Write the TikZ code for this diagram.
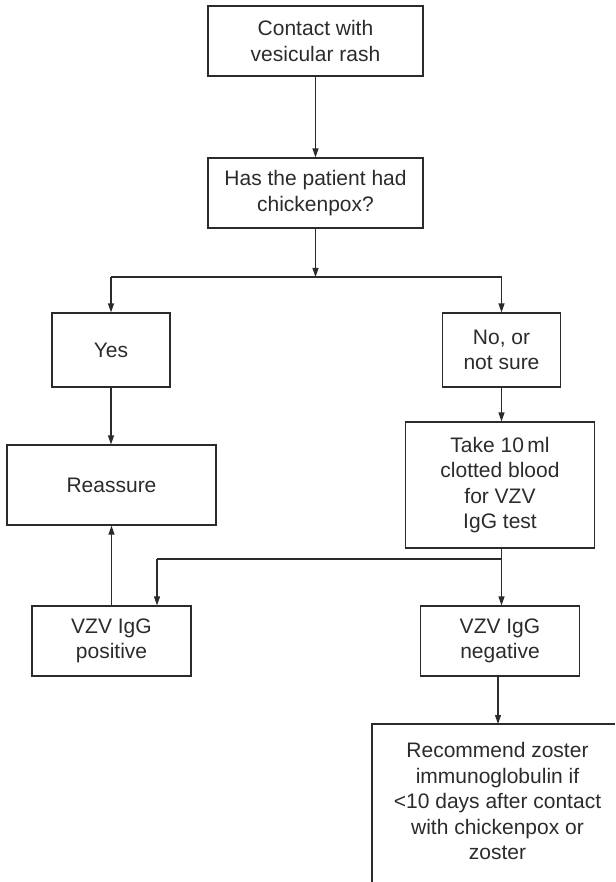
\documentclass[tikz,border=0pt]{standalone}
\usepackage{fontspec}
\setmainfont{Liberation Sans}
\usetikzlibrary{arrows.meta}
\definecolor{ink}{HTML}{2B2B2B}
\begin{document}
\begin{tikzpicture}[x=1pt,y=-1pt,
  box/.style={draw=ink,line width=1.2pt,rectangle,align=center,inner sep=0pt,
    font=\fontsize{21}{25.5}\selectfont,text=ink},
  conn/.style={draw=ink,line width=1.2pt},
  arr/.style={conn,-{Triangle[length=9pt,width=6pt]}}]
\useasboundingbox (0,0) rectangle (615,882);
\node[box,minimum width=215pt,minimum height=70pt] (contact) at (315.5,41) {Contact with\\vesicular rash};
\node[box,minimum width=215pt,minimum height=70pt] (had) at (315.5,193) {Has the patient had\\chickenpox?};
\node[box,minimum width=118pt,minimum height=74pt] (yes) at (111,350) {Yes};
\node[box,minimum width=118pt,minimum height=74pt] (no) at (501.5,350) {No, or\\not sure};
\node[box,minimum width=209pt,minimum height=80pt] (reassure) at (111.5,485) {Reassure};
\node[box,minimum width=189pt,minimum height=126pt] (take) at (500,485) {Take 10\,ml\\clotted blood\\for VZV\\IgG test};
\node[box,minimum width=159pt,minimum height=70pt] (pos) at (111.5,641) {VZV IgG\\positive};
\node[box,minimum width=159pt,minimum height=70pt] (neg) at (500,641) {VZV IgG\\negative};
\node[box,draw=none,anchor=north] (rec) at (497.5,742) {Recommend zoster\\immunoglobulin if\\<10 days after contact\\with chickenpox or\\zoster};
% open outline of the last box (cut off by the page)
\coordinate (recTR) at (615,724);
\coordinate (recTL) at (372,724);
\coordinate (recBL) at (372,882);
\coordinate (recTop) at (498,724);
\draw[conn] (recTR) -- (recTL) -- (recBL);
% connectors
\coordinate (j1) at (315.5,277);
\coordinate (j1l) at (111,277);
\coordinate (j1r) at (501.5,277);
\draw[arr] (contact) -- (had);
\draw[arr] (had) -- (j1);
\draw[conn] (j1l) -- (j1r);
\draw[arr] (j1l) -- (yes);
\draw[arr] (j1r) -- (no);
\draw[arr] (yes) -- (reassure.north -| yes);
\draw[arr] (no) -- (take.north -| no);
\coordinate (j2) at (501.5,559);
\coordinate (j2l) at (157,559);
\draw[conn] (take.south -| j2) -- (j2) -- (j2l);
\draw[arr] (j2l) -- (j2l |- pos.north);
\draw[arr] (j2) -- (j2 |- neg.north);
\draw[arr] (pos.north -| reassure) -- (reassure);
\draw[arr] (neg.south -| recTop) -- (recTop);
\end{tikzpicture}
\end{document}
